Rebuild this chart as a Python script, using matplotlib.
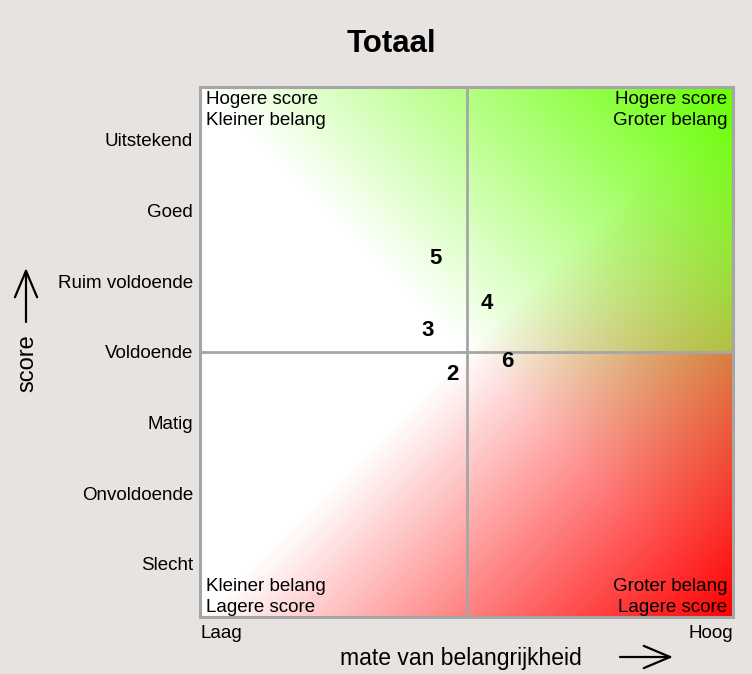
import numpy as np
import matplotlib
matplotlib.use("Agg")
import matplotlib.pyplot as plt

plt.rcParams['font.family'] = ['Liberation Sans', 'DejaVu Sans']

# ---- data ----
title = "Totaal"
score_labels = ["Slecht", "Onvoldoende", "Matig", "Voldoende", "Ruim voldoende", "Goed", "Uitstekend"]
score_ticks = [1, 2, 3, 4, 5, 6, 7]
point_labels = ["2", "3", "4", "5", "6"]
importance = [3.80, 3.46, 4.29, 3.56, 4.57]
score = [3.68, 4.31, 4.69, 5.32, 3.87]
x_low, x_high = "Laag", "Hoog"
x_title = "mate van belangrijkheid"
y_title = "score"
corner_tl = "Hogere score\nKleiner belang"
corner_tr = "Hogere score\nGroter belang"
corner_bl = "Kleiner belang\nLagere score"
corner_br = "Groter belang\nLagere score"

W, H = 752, 674
bg = '#e7e3e1'
grey = '#a6a6a6'

fig = plt.figure(figsize=(W / 100, H / 100), dpi=100, facecolor=bg)
ax = fig.add_axes([200 / W, 1 - 617 / H, 533 / W, 530 / H])
lo, hi, mid = 0.25, 7.75, 4.0
ax.set_xlim(lo, hi)
ax.set_ylim(lo, hi)

# gradient background
n = 400
xs = np.linspace(lo, hi, n)
ys = np.linspace(lo, hi, n)
X, Y = np.meshgrid(xs, ys)
u = (X - mid) / (hi - mid)
v = (Y - mid) / (hi - mid)
g = np.clip((u + v) / 2, 0, 1)[..., None]
r = np.clip((u - v) / 2, 0, 1)[..., None]
white = np.array([1.0, 1.0, 1.0])
green = np.array([0.40, 1.0, 0.0])
red = np.array([1.0, 0.0, 0.0])
# top half: red then green; bottom half: green then red
c1 = white * (1 - r) + red * r
c1 = c1 * (1 - g) + green * g
c2 = white * (1 - g) + green * g
c2 = c2 * (1 - r) + red * r
img = np.where((v >= 0)[..., None], c1, c2)
ax.imshow(img, extent=[lo, hi, lo, hi], origin='lower', aspect='auto',
          interpolation='bilinear', zorder=0)

ax.axvline(mid, color=grey, lw=2, zorder=1)
ax.axhline(mid, color=grey, lw=2, zorder=1)
for s in ax.spines.values():
    s.set_color(grey)
    s.set_linewidth(2.2)

ax.set_xticks([])
ax.set_yticks(score_ticks)
ax.set_yticklabels(score_labels, fontsize=13.5)
ax.tick_params(axis='y', length=0, pad=5)

for lab, xv, yv in zip(point_labels, importance, score):
    ax.text(xv, yv, lab, ha='center', va='center', fontsize=16, fontweight='bold', zorder=3)

fs = 13.5
ls = 1.28
ax.annotate(corner_tl, (0, 1), xycoords='axes fraction', xytext=(4, -3),
            textcoords='offset points', ha='left', va='top', fontsize=fs, linespacing=ls)
ax.annotate(corner_tr, (1, 1), xycoords='axes fraction', xytext=(-4, -3),
            textcoords='offset points', ha='right', va='top', fontsize=fs, linespacing=ls,
            multialignment='right')
ax.annotate(corner_bl, (0, 0), xycoords='axes fraction', xytext=(4, 1),
            textcoords='offset points', ha='left', va='bottom', fontsize=fs, linespacing=ls)
ax.annotate(corner_br, (1, 0), xycoords='axes fraction', xytext=(-4, 1),
            textcoords='offset points', ha='right', va='bottom', fontsize=fs, linespacing=ls,
            multialignment='right')

fig.text(391 / W, 1 - 44 / H, title, ha='center', va='center', fontsize=22.5, fontweight='bold')
fig.text(200 / W, 1 - 633 / H, x_low, ha='left', va='center', fontsize=13.5)
fig.text(733 / W, 1 - 633 / H, x_high, ha='right', va='center', fontsize=13.5)
fig.text(461 / W, 1 - 659 / H, x_title, ha='center', va='center', fontsize=16.5)
fig.text(27 / W, 1 - 363 / H, y_title, ha='center', va='center', fontsize=17, rotation=90)

arrowprops = dict(arrowstyle='->,head_length=0.95,head_width=0.4', lw=1.6, color='black',
                  mutation_scale=20, shrinkA=0, shrinkB=0)
fig.add_artist(matplotlib.patches.FancyArrowPatch((620 / W, 1 - 657 / H), (673 / W, 1 - 657 / H),
               transform=fig.transFigure, **arrowprops))
fig.add_artist(matplotlib.patches.FancyArrowPatch((26 / W, 1 - 322 / H), (26 / W, 1 - 268 / H),
               transform=fig.transFigure, **arrowprops))

fig.savefig('out.png', dpi=100, facecolor=bg)
